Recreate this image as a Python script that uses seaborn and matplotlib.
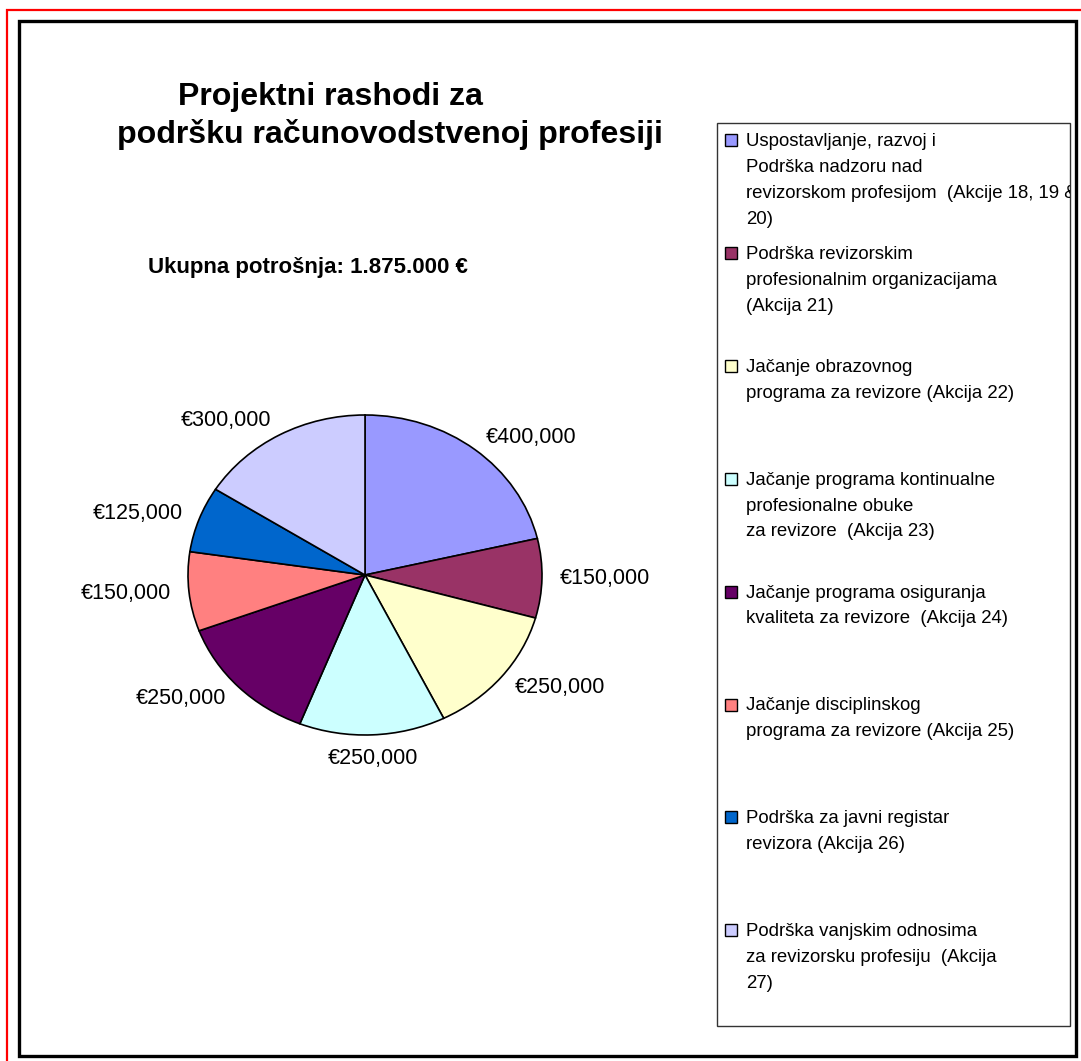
import matplotlib
matplotlib.use("Agg")
import matplotlib.pyplot as plt
from matplotlib.patches import Rectangle
from matplotlib.transforms import Bbox
import seaborn as sns

# ---- data ----
categories = [
    "Uspostavljanje, razvoj i\nPodrška nadzoru nad\nrevizorskom profesijom  (Akcije 18, 19 &\n20)",
    "Podrška revizorskim\nprofesionalnim organizacijama\n(Akcija 21)",
    "Jačanje obrazovnog\nprograma za revizore (Akcija 22)",
    "Jačanje programa kontinualne\nprofesionalne obuke\nza revizore  (Akcija 23)",
    "Jačanje programa osiguranja\nkvaliteta za revizore  (Akcija 24)",
    "Jačanje disciplinskog\nprograma za revizore (Akcija 25)",
    "Podrška za javni registar\nrevizora (Akcija 26)",
    "Podrška vanjskim odnosima\nza revizorsku profesiju  (Akcija\n27)",
]
values = [400000, 150000, 250000, 250000, 250000, 150000, 125000, 300000]
colors = ["#9999FF", "#993366", "#FFFFCC", "#CCFFFF", "#660066", "#FF8080", "#0066CC", "#CCCCFF"]
value_labels = [f"€{v:,}" for v in values]
title_line1 = "Projektni rashodi za"
title_line2 = "podršku računovodstvenoj profesiji"
subtitle = "Ukupna potrošnja: 1.875.000 €"

sns.set_theme(style="white")
plt.rcParams['font.family'] = ['Liberation Sans', 'DejaVu Sans']
plt.rcParams['text.color'] = 'black'

W, H = 1081, 1061
fig = plt.figure(figsize=(W / 100, H / 100), dpi=100)
fig.patch.set_facecolor("white")

def fx(x):
    return x / W

def fy(y):
    return 1 - y / H

# frames
fig.add_artist(Rectangle((fx(7.5), fy(1070)), fx(1090), 1060 / H,
                         transform=fig.transFigure, fill=False, edgecolor="#FF0000", lw=1.6))
fig.add_artist(Rectangle((fx(19), fy(1056)), fx(1076 - 19), (1056 - 21) / H,
                         transform=fig.transFigure, fill=False, edgecolor="black", lw=2.4))

# titles
fig.text(fx(331), fy(97), title_line1, ha="center", va="center", fontsize=23.1, fontweight="bold")
fig.text(fx(390), fy(135), title_line2, ha="center", va="center", fontsize=23.1, fontweight="bold")
fig.text(fx(308), fy(267), subtitle, ha="center", va="center", fontsize=16, fontweight="bold")

# pie
cx, cy, rx, ry = 365, 575, 177, 160
ax = fig.add_axes([fx(cx - rx), fy(cy + ry), 2 * rx / W, 2 * ry / H])
wedges, texts = ax.pie(values, labels=value_labels, colors=colors, startangle=90,
                       counterclock=False, labeldistance=1.1,
                       wedgeprops=dict(edgecolor="black", linewidth=1.2),
                       textprops=dict(fontsize=15.5, color="black"))
ax.set_aspect("auto")
ax.set_xlim(-1, 1)
ax.set_ylim(-1, 1)
ax.axis("off")
for t in texts:
    x, y = t.get_position()
    if abs(x) < 0.25:
        t.set_ha("center")
        t.set_position((x, y - 0.05))

# legend box
lx0, ly0, lx1, ly1 = 717, 123, 1070, 1026
fig.add_artist(Rectangle((fx(lx0), fy(ly1)), (lx1 - lx0) / W, (ly1 - ly0) / H,
                         transform=fig.transFigure, fill=False, edgecolor="#333333", lw=1.0))
clip = Bbox.from_extents(lx0, H - ly1, lx1, H - ly0)
first_y = 140
step = 112.9
for i, (lab, col) in enumerate(zip(categories, colors)):
    yy = first_y + i * step
    fig.add_artist(Rectangle((fx(725), fy(yy + 6)), 12 / W, 12 / H,
                             transform=fig.transFigure, facecolor=col, edgecolor="black", lw=1.0))
    t = fig.text(fx(746), fy(yy - 7), lab, ha="left", va="top", fontsize=13.4, linespacing=1.68)
    t.set_clip_box(clip)
    t.set_clip_on(True)

fig.savefig("out.png", dpi=100)
